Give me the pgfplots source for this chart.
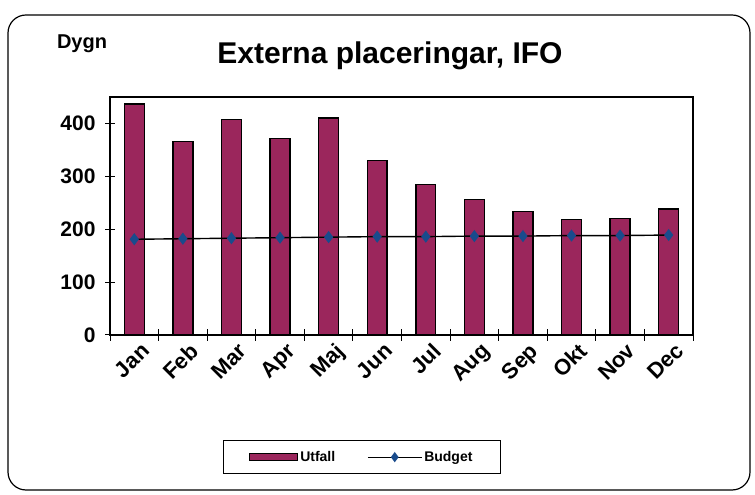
\documentclass[border=0pt]{standalone}
\usepackage{pgfplots}
\pgfplotsset{compat=1.18}
\usepackage{fontspec}
\setmainfont{Liberation Sans}
\definecolor{barcol}{RGB}{155,38,92}
\definecolor{budcol}{RGB}{25,75,140}
\begin{document}
\begin{tikzpicture}
\path (0pt,0pt) rectangle (755pt,495pt);
\draw[line width=1.2pt, rounded corners=18pt] (8pt,5pt) rectangle (750pt,480pt);
\node[font=\bfseries\fontsize{30}{34}\selectfont] at (390pt,439pt) {Externa placeringar, IFO};
\node[font=\bfseries\fontsize{20}{24}\selectfont] at (82pt,451pt) {Dygn};
\begin{axis}[
  at={(110pt,160pt)}, anchor=south west,
  scale only axis, width=583pt, height=238pt,
  xmin=-0.5, xmax=11.5, ymin=0, ymax=450,
  axis line style={line width=1.2pt},
  xtick pos=bottom, ytick pos=left,
  xtick=data,
  xticklabels={Jan,Feb,Mar,Apr,Maj,Jun,Jul,Aug,Sep,Okt,Nov,Dec},
  x tick label style={rotate=45, anchor=north east, font=\bfseries\fontsize{22}{26}\selectfont, yshift=-4pt, xshift=4pt, inner sep=1pt},
  major x tick style={draw=none},
  minor xtick={-0.5,0.5,1.5,2.5,3.5,4.5,5.5,6.5,7.5,8.5,9.5,10.5,11.5},
  minor tick length=12pt,
  minor x tick style={line width=1pt, black},
  tick align=center,
  ytick={0,100,200,300,400},
  major tick length=10pt,
  y tick style={line width=1pt, black},
  y tick label style={font=\bfseries\fontsize{21}{24}\selectfont},
  /pgf/number format/assume math mode=true,
  yticklabel style={xshift=-6pt},
  legend style={draw=black, line width=1pt, at={(0.432,-0.513)}, anchor=center,
    legend columns=2, font=\bfseries\fontsize{14}{16}\selectfont,
    inner xsep=26pt, inner ysep=9pt,
    /tikz/every even column/.append style={column sep=30pt}},
]
\addplot[ybar, bar width=0.41, draw=black, line width=1.4pt, fill=barcol,
  legend image code/.code={\draw[black, line width=1pt, fill=barcol] (0pt,-3.5pt) rectangle (48pt,3.5pt);}]
  coordinates {(0,437) (1,366) (2,407) (3,372) (4,410) (5,330) (6,285) (7,256) (8,233) (9,218) (10,220) (11,238)};
\addlegendentry{Utfall}
\addplot[black, line width=1.4pt, mark=diamond*, mark size=5pt, mark options={fill=budcol, draw=budcol},
  legend image code/.code={\draw[black, line width=1pt] (0pt,0pt) -- (54pt,0pt); \fill[budcol] (27pt,0pt) +(0,-4pt) -- +(3pt,0) -- +(0,4pt) -- +(-3pt,0) -- cycle;}]
  coordinates {(0,181) (1,182) (2,183) (3,184) (4,185) (5,186) (6,186) (7,187) (8,187) (9,188) (10,188) (11,189)};
\addlegendentry{Budget}
\end{axis}
\end{tikzpicture}
\end{document}
